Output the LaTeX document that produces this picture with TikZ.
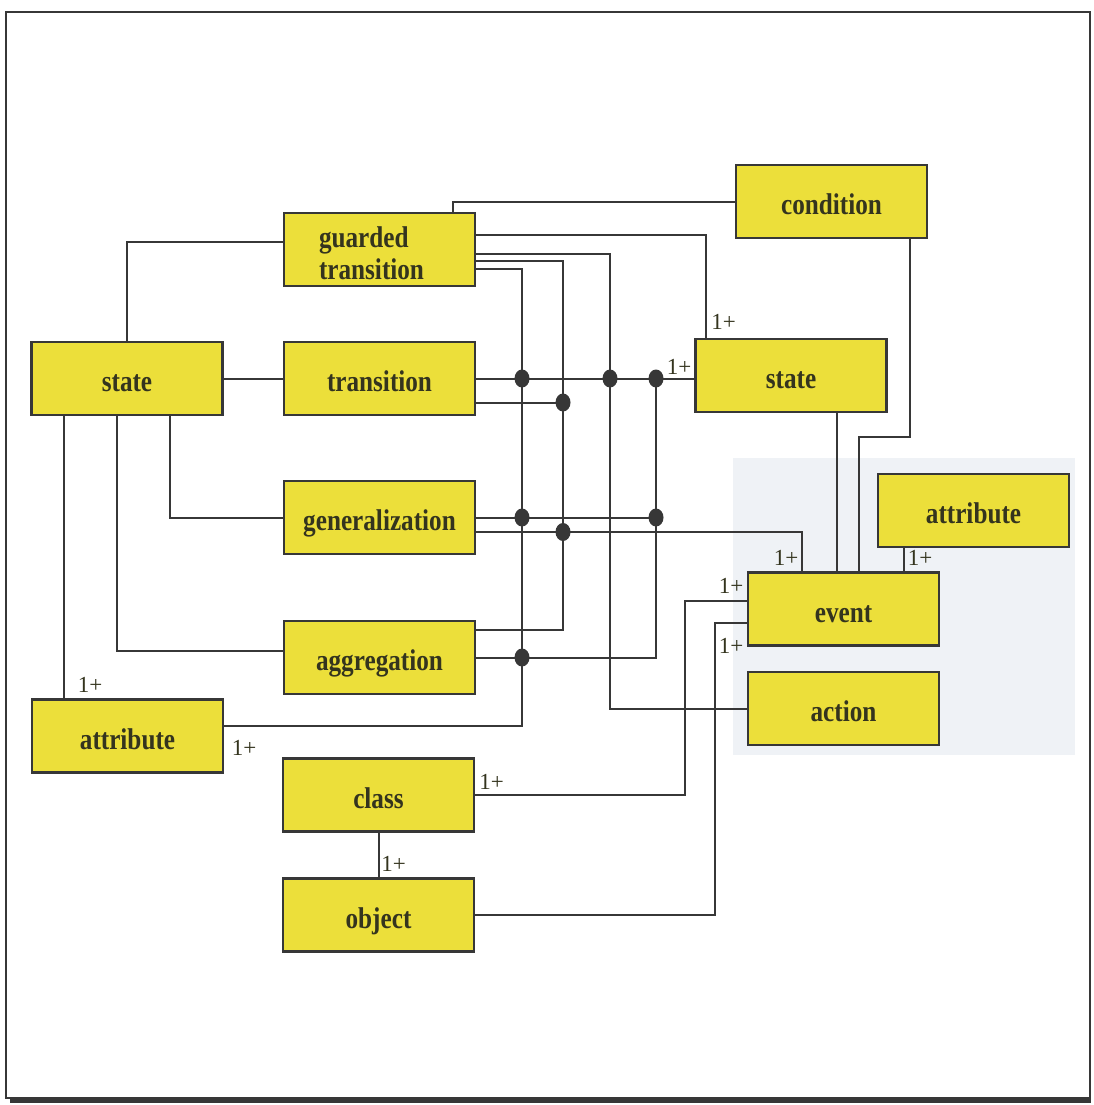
\documentclass[tikz,border=0pt]{standalone}
\usepackage{fontspec}
\usetikzlibrary{shapes.geometric}
\newfontfamily\boxfont{Liberation Serif}[FakeStretch=0.84]
\newfontfamily\multfont{Liberation Serif}
\definecolor{boxyellow}{RGB}{236,223,58}
\definecolor{boxtext}{RGB}{52,52,30}
\definecolor{wire}{RGB}{55,55,55}
\definecolor{haze}{RGB}{239,242,246}
\tikzset{
  entitybox/.style={draw=wire, line width=2.2pt, fill=boxyellow,
    minimum width=191pt, minimum height=73pt, inner sep=0pt,
    text=boxtext, font=\boxfont\bfseries\fontsize{30}{30}\selectfont, align=center},
  entity/.style={entitybox, text height=28pt, text depth=2pt},
  link/.style={draw=wire, line width=2pt},
  junction/.style={ellipse, fill=wire, inner sep=0pt, minimum width=15pt, minimum height=18pt},
  mult/.style={inner sep=0pt, text=boxtext, font=\multfont\fontsize{23}{23}\selectfont}
}
\begin{document}
\begin{tikzpicture}[x=1pt,y=-1pt]
\useasboundingbox (0,0) rectangle (1093,1105);
% faint tinted patch behind the event group
\fill[haze] (733,458) rectangle (1075,755);
% frame
\draw[wire, line width=2.2pt] (6,12) rectangle (1090,1098);
\draw[wire, line width=4pt] (10,1101) -- (1091,1101);

% entities
\node[entitybox, align=left] (gtr) at (379.5,249.5)
  {\hspace*{-16pt}\rule{0pt}{29pt}guarded\\[2pt]\hspace*{-16pt}transition};
\node[entity] (cond) at (831.5,201.5) {condition};
\node[entity] (stL)  at (127,378.5) {state};
\node[entity] (tr)   at (379.5,378.5) {transition};
\node[entity] (stR)  at (791,375.5) {state};
\node[entity] (gen)  at (379.5,517.5) {generalization};
\node[entity] (attR) at (973.5,510.5) {attribute};
\node[entity] (ev)   at (843.5,609) {event};
\node[entity] (agg)  at (379.5,657.5) {aggregation};
\node[entity] (act)  at (843.5,708.5) {action};
\node[entity] (attL) at (127.5,736) {attribute};
\node[entity] (cls)  at (378.5,795) {class};
\node[entity] (obj)  at (378.5,915) {object};

% vertical bus lines
\coordinate (vA) at (522,0);
\coordinate (vB) at (563,0);
\coordinate (vC) at (610,0);
\coordinate (vD) at (656,0);
\coordinate (vE) at (685,0);
\coordinate (vF) at (715,0);
\coordinate (bend) at (0,437);
\coordinate (aggT) at ([yshift=27.5pt]agg.east);
\coordinate (attLT) at ([yshift=10pt]attL.east);
\coordinate (trB) at ([yshift=-24pt]tr.east);
\coordinate (genB) at ([yshift=-14.5pt]gen.east);
\coordinate (evA) at ([xshift=-41.5pt]ev.north);
\coordinate (evB) at ([xshift=-6.5pt]ev.north);
\coordinate (evC) at ([xshift=15.5pt]ev.north);
\coordinate (evD) at ([xshift=60.5pt]ev.north);

% connectors from the left-hand state
\draw[link] (stL.north) |- ([yshift=8pt]gtr.west);
\draw[link] (stL.east) -- (tr.west);
\draw[link] ([xshift=43pt]stL.south) |- (gen.west);
\draw[link] ([xshift=-10pt]stL.south) |- ([yshift=6.5pt]agg.west);
\draw[link] ([xshift=-63pt]stL.south) -- ([xshift=-63.5pt]attL.north);

% connectors from guarded transition
\draw[link] ([xshift=73.5pt]gtr.north) |- (cond.west);
\draw[link] ([yshift=14.5pt]gtr.east) -| ([xshift=-85pt]stR.north);
\draw[link] ([yshift=-4.5pt]gtr.east) -| (act.west -| vC) -- (act.west);
\draw[link] ([yshift=-11.5pt]gtr.east) -| (aggT -| vB) -- (aggT);
\draw[link] ([yshift=-19.5pt]gtr.east) -| (attLT -| vA) -- (attLT);

% transition, generalization, aggregation
\draw[link] (tr.east) -- (tr.east -| stR.west);
\draw[link] (trB) -- (trB -| vB);
\draw[link] (gen.east) -- (gen.east -| vD);
\draw[link] (genB) -| (evA);
\draw[link] (agg.east) -| (tr.east -| vD);

% junction dots
\node[junction] (j1) at (tr.east -| vA) {};
\node[junction] (j2) at (tr.east -| vC) {};
\node[junction] (j3) at (tr.east -| vD) {};
\node[junction] (j4) at (trB -| vB) {};
\node[junction] (j5) at (gen.east -| vA) {};
\node[junction] (j6) at (gen.east -| vD) {};
\node[junction] (j7) at (genB -| vB) {};
\node[junction] (j8) at (agg.east -| vA) {};

% right-hand group
\draw[link] ([xshift=78.5pt]cond.south) |- (bend -| evC) -- (evC);
\draw[link] ([xshift=46pt]stR.south) -- (evB);
\draw[link] ([xshift=-69.5pt]attR.south) -- (evD);
\draw[link] ([yshift=8pt]ev.west) -| (cls.east -| vE) -- (cls.east);
\draw[link] ([yshift=-14pt]ev.west) -| (obj.east -| vF) -- (obj.east);
\draw[link] (cls.south) -- (obj.north);

% multiplicities
\node[mult] (m1)  at (723.5,322) {1+};
\node[mult] (m2)  at (679,367) {1+};
\node[mult] (m3)  at (786,558) {1+};
\node[mult] (m4)  at (920,558) {1+};
\node[mult] (m5)  at (731,586) {1+};
\node[mult] (m6)  at (731,646) {1+};
\node[mult] (m7)  at (491.5,782) {1+};
\node[mult] (m8)  at (393.5,864) {1+};
\node[mult] (m9)  at (90,685) {1+};
\node[mult] (m10) at (244,748) {1+};
\end{tikzpicture}
\end{document}
